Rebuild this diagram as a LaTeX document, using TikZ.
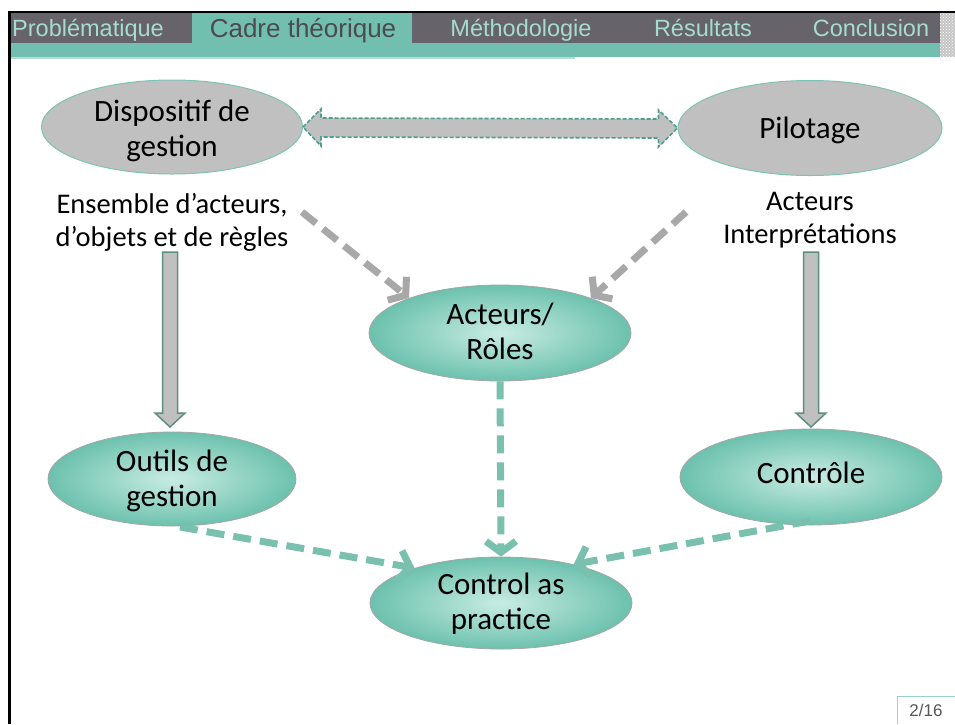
\documentclass[tikz,border=0pt]{standalone}
\usepackage{fontspec}
\setmainfont{Carlito}
\newfontfamily\hdr{Liberation Sans}
\usetikzlibrary{shapes.geometric,arrows.meta,patterns,calc}
\definecolor{hdrgray}{HTML}{67636B}
\definecolor{hdrteal}{HTML}{72BFB0}
\definecolor{hdrline}{HTML}{B5DDD3}
\definecolor{tablight}{HTML}{A6DCCF}
\definecolor{tabdark}{HTML}{4B4B4F}
\definecolor{ellgray}{HTML}{C0C0C0}
\definecolor{ellborder}{HTML}{7CC3B3}
\definecolor{tealin}{HTML}{C8ECE3}
\definecolor{tealout}{HTML}{6CC1AD}
\definecolor{dashteal}{HTML}{79C0AE}
\definecolor{dashgray}{HTML}{A8A8A8}
\definecolor{blockborder}{HTML}{5E8E80}
\definecolor{dblborder}{HTML}{4E9E8C}
\definecolor{pagegray}{HTML}{555555}
\newcommand\elltext[2]{\raisebox{#1}[0pt][0pt]{\begin{tabular}{@{}c@{}}#2\end{tabular}}}
\begin{document}
\begin{tikzpicture}[x=1pt,y=-1pt,
  grayell/.style={ellipse, fill=ellgray, draw=ellborder, line width=1pt,
    minimum width=262pt, minimum height=95pt, inner sep=0pt,
    font=\fontsize{31}{35}\selectfont},
  tealell/.style={ellipse, inner color=tealin, outer color=tealout, draw=gray!70,
    line width=0.8pt, minimum width=262pt, minimum height=96pt, inner sep=0pt,
    font=\fontsize{31}{35}\selectfont},
  lbl/.style={align=center, inner sep=0pt, font=\fontsize{28.5}{33}\selectfont},
  tab/.style={anchor=base, inner sep=0pt, text=tablight, font=\hdr\fontsize{23.5}{24}\selectfont},
  gdash/.style={draw=dashgray, line width=7pt, dash pattern=on 18pt off 9pt,
    -{Straight Barb[length=11pt,width=30pt]}},
  tdash/.style={draw=dashteal, line width=7pt, dash pattern=on 18pt off 9pt,
    -{Straight Barb[length=11pt,width=30pt]}},
  blockarrow/.style={fill=ellgray, draw=blockborder, line width=1.5pt, line join=miter},
  dblarrow/.style={fill=ellgray, draw=dblborder, line width=1.6pt, dash pattern=on 4pt off 2pt}
]
\useasboundingbox (0,0) rectangle (955,724);
\fill[white] (0,0) rectangle (955,724);
% header
\fill[hdrgray] (10,13) rectangle (940,43);
\fill[hdrteal] (10,43) rectangle (940,57);
\fill[hdrteal] (192,13) rectangle (412,43);
\fill[hdrline] (10,57) rectangle (575,59);
\fill[gray!45] (940,13) rectangle (955,57);
\fill[pattern=crosshatch dots, pattern color=white] (940,13) rectangle (955,57);
\fill[black] (8,11) rectangle (955,13);
\fill[black] (8,11) rectangle (11,724);
\node[tab] (t1) at (88,36) {Problématique};
\node[tab, text=tabdark, font=\hdr\fontsize{26}{27}\selectfont] (t2) at (303,37) {Cadre théorique};
\node[tab] (t3) at (521,36) {Méthodologie};
\node[tab] (t4) at (703,36) {Résultats};
\node[tab] (t5) at (871,36) {Conclusion};
% page number
\draw[hdrteal!70, line width=1pt] (897,724) -- (897,696) -- (955,696);
\node[text=pagegray, font=\hdr\fontsize{17}{18}\selectfont, inner sep=0pt] (pg) at (926,710) {2/16};
% main nodes
\node[grayell, minimum width=261pt, minimum height=94pt] (disp) at (172,127) {\elltext{-11.5pt}{Dispositif de\\gestion}};
\node[grayell, minimum width=264pt] (pil) at (810,128) {\elltext{-9.5pt}{Pilotage}};
\node[lbl] (ens) at (172,222) {Ensemble d’acteurs,\\d’objets et de règles};
\node[lbl] (actint) at (810,220) {Acteurs\\Interprétations};
\node[tealell] (act) at (500,333) {\elltext{-8pt}{Acteurs/\\Rôles}};
\node[tealell, minimum width=248pt, minimum height=94pt] (out) at (172,479) {\elltext{-9pt}{Outils de\\gestion}};
\node[tealell] (ctrl) at (811,477) {\elltext{-6pt}{Contrôle}};
\node[tealell, minimum height=92pt] (cap) at (501,603) {\elltext{-8pt}{Control as\\practice}};
% double block arrow
\draw[dblarrow] (disp.east) -- ++(18,-18) -- ++(0,9) -- ($(pil.west)+(-19,-9)$) -- ++(0,-9) -- (pil.west)
  -- ++(-19,19) -- ++(0,-9) -- ($(disp.east)+(18,10)$) -- ++(0,9) -- cycle;
% vertical block arrows
\draw[blockarrow] (162.5,252) -- (177.5,252) -- (177.5,413) -- (185,413) -- (170,427) -- (155,413) -- (162.5,413) -- cycle;
\draw[blockarrow] (803.5,252) -- (818.5,252) -- (818.5,413) -- (826,413) -- (811,427) -- (796,413) -- (803.5,413) -- cycle;
% dashed arrows
\coordinate (g1) at (302,212);
\coordinate (g2) at (686,212);
\coordinate (o1) at (180,527);
\coordinate (c1) at (810,521);
\draw[gdash] (g1) -- (act.159);
\draw[gdash] (g2) -- (act.21);
\draw[tdash] (act.south) -- (cap.north);
\draw[tdash] (o1) -- (cap.158);
\draw[tdash] (c1) -- (cap.28);
\end{tikzpicture}
\end{document}
